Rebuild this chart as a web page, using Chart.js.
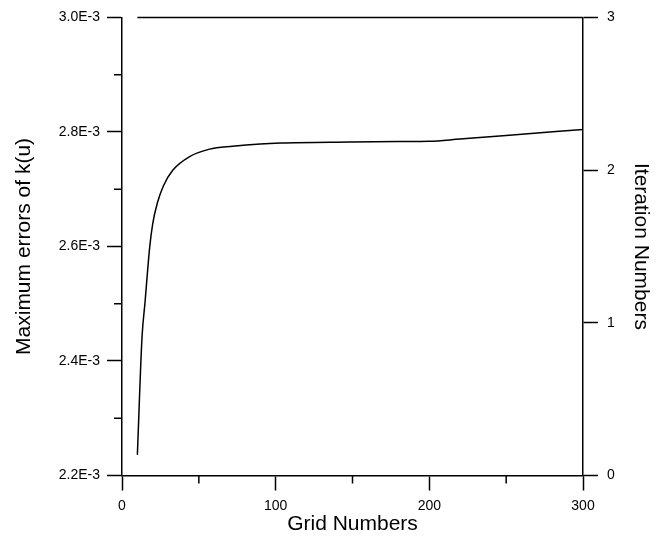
<!DOCTYPE html>
<html lang="en">
<head>
    <meta charset="UTF-8">
    <title>Maximum errors of k(u)</title>
    <script src="https://cdn.jsdelivr.net/npm/chart.js"></script>
    <style>
        html, body {
            margin: 0;
            padding: 0;
            background: #ffffff;
        }
        .chart-box {
            width: 664px;
            height: 543px;
        }
    </style>
</head>
<body>

<div class="chart-box">
    <canvas id="errChart"></canvas>
</div>

<script>
    // values
    const gridNumbers = [10, 13, 15, 18, 20, 23, 27, 33, 44, 57, 72, 90, 103, 148, 180, 200, 220, 250, 300];
    const maxErrors = [2.236e-3, 2.44e-3, 2.503e-3, 2.598e-3, 2.640e-3, 2.676e-3, 2.706e-3, 2.733e-3,
                       2.757e-3, 2.770e-3, 2.775e-3, 2.779e-3, 2.7806e-3, 2.7823e-3, 2.7831e-3, 2.7835e-3,
                       2.7877e-3, 2.7939e-3, 2.8043e-3];

    const iterGrid = [10, 300];
    const iterNumbers = [3, 3];

    const xTicks = [0, 100, 200, 300];
    const xMinorTicks = [50, 150, 250];
    const yTicks = [2.2e-3, 2.4e-3, 2.6e-3, 2.8e-3, 3.0e-3];
    const yMinorTicks = [2.3e-3, 2.5e-3, 2.7e-3, 2.9e-3];
    const y1Ticks = [0, 1, 2, 3];

    const tickFont = { family: "'Liberation Sans', Arial, sans-serif", size: 14 };
    const titleFont = { family: "'Liberation Sans', Arial, sans-serif", size: 21 };

    // short minor tick marks (Chart.js only has one tick length per axis)
    const minorTicks = {
        id: 'minorTicks',
        afterDraw(chart) {
            const ctx = chart.ctx;
            const x = chart.scales.x;
            const y = chart.scales.y;
            ctx.save();
            ctx.strokeStyle = '#000';
            ctx.lineWidth = 1.5;
            ctx.beginPath();
            xMinorTicks.forEach(v => {
                const px = x.getPixelForValue(v);
                ctx.moveTo(px, x.top);
                ctx.lineTo(px, x.top + 8);
            });
            yMinorTicks.forEach(v => {
                const py = y.getPixelForValue(v);
                ctx.moveTo(y.right, py);
                ctx.lineTo(y.right - 8, py);
            });
            ctx.stroke();
            ctx.restore();
        }
    };

    const ctx = document.getElementById('errChart').getContext('2d');

    new Chart(ctx, {
        type: 'line',
        data: {
            datasets: [{
                data: gridNumbers.map((g, i) => ({ x: g, y: maxErrors[i] })),
                yAxisID: 'y',
                borderColor: '#000',
                borderWidth: 1.5,
                pointRadius: 0,
                cubicInterpolationMode: 'monotone',
                fill: false
            }, {
                data: iterGrid.map((g, i) => ({ x: g, y: iterNumbers[i] })),
                yAxisID: 'y1',
                borderColor: '#000',
                borderWidth: 1.5,
                pointRadius: 0,
                clip: 4,
                fill: false
            }]
        },
        options: {
            responsive: true,
            maintainAspectRatio: false,
            animation: false,
            layout: {
                padding: { top: 13, left: 0, right: 0, bottom: 0 }
            },
            plugins: {
                legend: { display: false },
                tooltip: { enabled: false }
            },
            scales: {
                x: {
                    type: 'linear',
                    min: 0,
                    max: 300,
                    afterFit: s => { s.height = 67.5; },
                    afterBuildTicks: s => { s.ticks = xTicks.map(v => ({ value: v })); },
                    ticks: { color: '#000', font: tickFont, padding: 7, maxRotation: 0 },
                    grid: { drawOnChartArea: false, tickLength: 15, tickWidth: 1.5, tickColor: '#000' },
                    border: { color: '#000', width: 1.5 },
                    title: {
                        display: true,
                        text: 'Grid Numbers',
                        color: '#000',
                        font: titleFont,
                        padding: { top: 0, bottom: 6 }
                    }
                },
                y: {
                    type: 'linear',
                    position: 'left',
                    min: 2.2e-3,
                    max: 3.0e-3,
                    afterFit: s => { s.width = 122; },
                    afterBuildTicks: s => { s.ticks = yTicks.map(v => ({ value: v })); },
                    ticks: {
                        color: '#000',
                        font: tickFont,
                        padding: 7,
                        callback: v => (v * 1000).toFixed(1) + 'E-3'
                    },
                    grid: { drawOnChartArea: false, tickLength: 15, tickWidth: 1.5, tickColor: '#000' },
                    border: { color: '#000', width: 1.5 },
                    title: {
                        display: true,
                        text: 'Maximum errors of k(u)',
                        color: '#000',
                        font: titleFont,
                        padding: { top: 12, bottom: 0 }
                    }
                },
                y1: {
                    type: 'linear',
                    position: 'right',
                    min: 0,
                    max: 3,
                    afterFit: s => { s.width = 81; },
                    afterBuildTicks: s => { s.ticks = y1Ticks.map(v => ({ value: v })); },
                    ticks: { color: '#000', font: tickFont, padding: 9 },
                    grid: { drawOnChartArea: false, tickLength: 15, tickWidth: 1.5, tickColor: '#000' },
                    border: { color: '#000', width: 1.5 },
                    title: {
                        display: true,
                        text: 'Iteration Numbers',
                        color: '#000',
                        font: titleFont,
                        padding: { top: 11, bottom: 0 }
                    }
                }
            }
        },
        plugins: [minorTicks]
    });
</script>

</body>
</html>
